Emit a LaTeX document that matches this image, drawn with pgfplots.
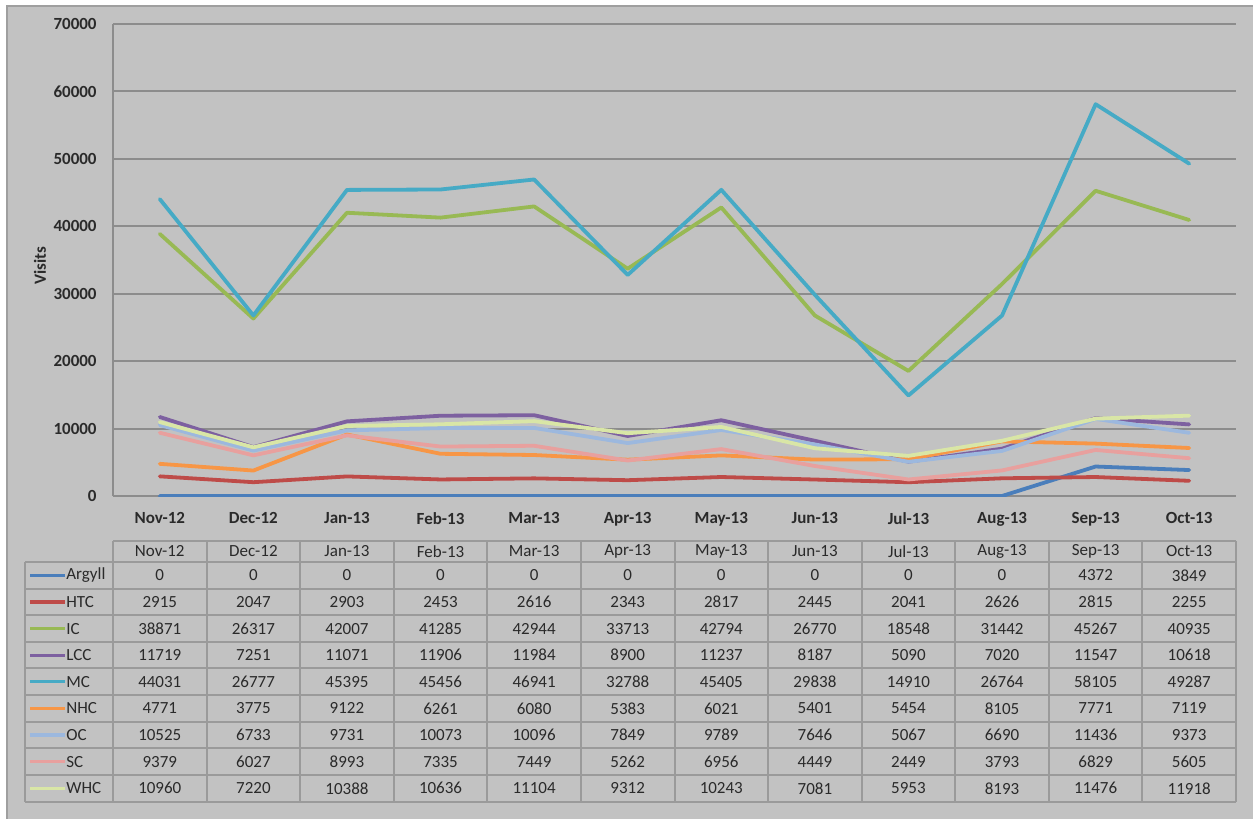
\documentclass[border=0pt]{standalone}
\usepackage{pgfplots}
\usepackage{pgfplotstable}
\pgfplotsset{compat=1.18}
\usepackage{fontspec}
\setmainfont{Carlito}
\definecolor{bg}{HTML}{C2C2C2}
\definecolor{gridc}{HTML}{8C8C8C}
\definecolor{tabc}{HTML}{9A9A9A}
\definecolor{txt}{HTML}{2A2A2A}
\definecolor{cArgyll}{HTML}{4A7EBB}
\definecolor{cHTC}{HTML}{BE4B48}
\definecolor{cIC}{HTML}{98B954}
\definecolor{cLCC}{HTML}{7D60A0}
\definecolor{cMC}{HTML}{46AAC5}
\definecolor{cNHC}{HTML}{F79646}
\definecolor{cOC}{HTML}{9CB8DE}
\definecolor{cSC}{HTML}{E8A09E}
\definecolor{cWHC}{HTML}{D9E6A6}

\pgfplotstableread{
m Argyll HTC IC LCC MC NHC OC SC WHC
0 0 2915 38871 11719 44031 4771 10525 9379 10960
1 0 2047 26317 7251 26777 3775 6733 6027 7220
2 0 2903 42007 11071 45395 9122 9731 8993 10388
3 0 2453 41285 11906 45456 6261 10073 7335 10636
4 0 2616 42944 11984 46941 6080 10096 7449 11104
5 0 2343 33713 8900 32788 5383 7849 5262 9312
6 0 2817 42794 11237 45405 6021 9789 6956 10243
7 0 2445 26770 8187 29838 5401 7646 4449 7081
8 0 2041 18548 5090 14910 5454 5067 2449 5953
9 0 2626 31442 7020 26764 8105 6690 3793 8193
10 4372 2815 45267 11547 58105 7771 11436 6829 11476
11 3849 2255 40935 10618 49287 7119 9373 5605 11918
}\data

\begin{document}
\begin{tikzpicture}[x=0.5pt,y=0.5pt]
\useasboundingbox (0,0) rectangle (1253,-819);
\fill[white] (0,0) rectangle (1253,-819);
\fill[bg] (7,-6) rectangle (1253,-819);
\draw[gray!75, line width=0.8pt] (7,-819) -- (7,-6) -- (1253,-6);

\begin{axis}[
  at={(56.5pt,-248pt)}, anchor=south west,
  scale only axis, width=561.5pt, height=236pt,
  xmin=-0.5, xmax=11.5, ymin=0, ymax=70000,
  ytick={0,10000,...,70000},
  xtick={0,...,11},
  xticklabels={Nov-12,Dec-12,Jan-13,Feb-13,Mar-13,Apr-13,May-13,Jun-13,Jul-13,Aug-13,Sep-13,Oct-13},
  scaled y ticks=false,
  /pgf/number format/.cd, 1000 sep={}, assume math mode=true, /pgfplots/.cd,
  axis x line*=bottom, axis y line*=left,
  axis line style={gridc, line width=1pt, -},
  ymajorgrids, grid style={gridc, line width=1pt},
  major tick length=0pt,
  tick label style={font=\bfseries\fontsize{8.5}{10}\selectfont, text=txt, inner sep=0pt},
  yticklabel style={xshift=-8pt},
  xticklabel style={yshift=-8pt},
  every axis plot/.append style={line width=1.9pt, line cap=round, line join=round},
]
\addplot[cArgyll] table[x=m,y=Argyll]{\data};
\addplot[cHTC] table[x=m,y=HTC]{\data};
\addplot[cIC] table[x=m,y=IC]{\data};
\addplot[cLCC] table[x=m,y=LCC]{\data};
\addplot[cMC] table[x=m,y=MC]{\data};
\addplot[cNHC] table[x=m,y=NHC]{\data};
\addplot[cOC] table[x=m,y=OC]{\data};
\addplot[cSC] table[x=m,y=SC]{\data};
\addplot[cWHC] table[x=m,y=WHC]{\data};
\end{axis}

\node[rotate=90, font=\bfseries\fontsize{8.5}{10}\selectfont, text=txt] at (40,-266) {Visits};

% data table
\def\cw{93.583}
\def\rh{26.62}
\begin{scope}[tabc, line width=1pt]
\draw (113,-541) -- (1236,-541);
\foreach \r in {0,...,9} { \draw (25,{-562-\r*\rh}) -- (1236,{-562-\r*\rh}); }
\foreach \c in {0,...,12} { \draw ({113+\c*\cw},-541) -- ({113+\c*\cw},{-562-9*\rh}); }
\draw (25,-562) -- (25,{-562-9*\rh});
\end{scope}
\begin{scope}[every node/.style={font=\fontsize{8.5}{10}\selectfont, text=txt, inner sep=0pt}]
\foreach \lab [count=\c from 0] in {Nov-12,Dec-12,Jan-13,Feb-13,Mar-13,Apr-13,May-13,Jun-13,Jul-13,Aug-13,Sep-13,Oct-13}
  { \node at ({113+(\c+0.5)*\cw},-551.5) {\lab}; }
\foreach \s [count=\ri from 0] in {Argyll,HTC,IC,LCC,MC,NHC,OC,SC,WHC} {
  \draw[c\s, line width=1.6pt] (30,{-575.3-\ri*\rh}) -- (65,{-575.3-\ri*\rh});
  \node[anchor=west] at (66,{-575.3-\ri*\rh}) {\s};
  \foreach \c in {0,...,11} {
    \pgfplotstablegetelem{\c}{\s}\of\data
    \node at ({113+(\c+0.5)*\cw},{-575.3-\ri*\rh}) {\pgfplotsretval};
  }
}
\end{scope}
\end{tikzpicture}
\end{document}
